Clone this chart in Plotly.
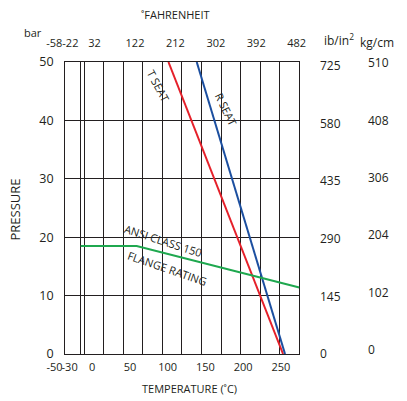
import plotly.graph_objects as go

# ---------------- data ----------------
celsius_ticks = [-50, -30, 0, 50, 100, 150, 200, 250]
fahrenheit_ticks = [-58, -22, 32, 122, 212, 302, 392, 482]
bar_ticks = [0, 10, 20, 30, 40, 50]
psi_ticks = [0, 145, 290, 435, 580, 725]
kgcm_ticks = [0, 102, 204, 306, 408, 510]

t_seat_temp = [101, 253]
t_seat_pres = [50, 0]
r_seat_temp = [138.5, 255.6]
r_seat_pres = [50, 0]
flange_temp = [-15.4, 58.9, 274.5]
flange_pres = [18.5, 18.5, 11.4]

# ---------------- layout helpers ----------------
# page body has an 8 px margin, so the figure sits at (8, 8)
OX, OY = 8, 8
W, H = 407 - OX, 401 - OY
def fx(px):
    return (px - OX) / W
def fy(py):
    return 1 - (py - OY) / H

INK = "#231f20"
FONT = "Open Sans"

frame_x = [fx(64.6), fx(299.3)]
frame_y = [fy(354), fy(62)]
wide_x = [fx(36.6), fx(299.3)]

def labels(vals):
    return [str(v) for v in vals]

fig = go.Figure()

# grid subplot (x, y) -- drawn first, underneath
fig.add_trace(go.Scatter(x=[None], y=[None], xaxis="x", yaxis="y",
                         mode="lines", hoverinfo="skip", showlegend=False))

# data curves on (x2, y2)
fig.add_trace(go.Scatter(x=t_seat_temp, y=t_seat_pres, xaxis="x2", yaxis="y2",
                         mode="lines", line=dict(color="#e5202a", width=2),
                         name="T SEAT"))
fig.add_trace(go.Scatter(x=r_seat_temp, y=r_seat_pres, xaxis="x2", yaxis="y2",
                         mode="lines", line=dict(color="#1c4fa0", width=2),
                         name="R SEAT"))
fig.add_trace(go.Scatter(x=flange_temp, y=flange_pres, xaxis="x2", yaxis="y2",
                         mode="lines", line=dict(color="#1fa84f", width=2),
                         name="ANSI CLASS 150 FLANGE RATING"))

# helper traces so the secondary scale axes are drawn
for xa, ya in [("x3", "y2"), ("x2", "y3"), ("x2", "y4")]:
    fig.add_trace(go.Scatter(x=[None], y=[None], xaxis=xa, yaxis=ya,
                             mode="lines", hoverinfo="skip", showlegend=False))

grid_x = [0, 0.82] + list(range(1, 13))

common = dict(automargin=False, zeroline=False, ticks="", fixedrange=True)

fig.update_layout(
    template="none",
    width=W, height=H,
    margin=dict(l=0, r=0, t=0, b=0, pad=0),
    paper_bgcolor="white",
    plot_bgcolor="rgba(0,0,0,0)",
    showlegend=False,
    font=dict(family=FONT, size=12, color=INK),
    xaxis=dict(domain=frame_x, range=[0, 12], anchor="y",
               tickvals=grid_x, showticklabels=False,
               showgrid=True, gridcolor=INK, gridwidth=1.2,
               showline=True, mirror=True, linecolor=INK, linewidth=1.4,
               **common),
    yaxis=dict(domain=frame_y, range=[0, 50], anchor="x",
               dtick=10, showticklabels=False,
               showgrid=True, gridcolor=INK, gridwidth=1.2,
               showline=True, mirror=True, linecolor=INK, linewidth=1.4,
               **common),
    xaxis2=dict(domain=wide_x, range=[-73.8, 274.5], anchor="y2",
                tickvals=celsius_ticks, ticktext=labels(celsius_ticks),
                showgrid=False, tickangle=0,
                showline=False, ticklabelstandoff=5,
                tickfont=dict(size=11), **common),
    yaxis2=dict(domain=frame_y, range=[0, 50], anchor="free",
                position=frame_x[0], side="left",
                tickvals=bar_ticks, showgrid=False,
                showline=False, ticklabelstandoff=11,
                tickfont=dict(size=12.5), **common),
    xaxis3=dict(overlaying="x2", side="top", anchor="free", position=fy(49.5),
                range=[-97.2, 487.9], tickvals=fahrenheit_ticks,
                ticktext=labels(fahrenheit_ticks), tickangle=0,
                showgrid=False, showline=False,
                tickfont=dict(size=11), **common),
    yaxis3=dict(overlaying="y2", side="right", anchor="free", position=fx(319),
                range=[0, 735], tickvals=psi_ticks,
                showgrid=False, showline=False,
                tickfont=dict(size=12), **common),
    yaxis4=dict(overlaying="y2", side="right", anchor="free", position=fx(367),
                range=[-7, 512], tickvals=kgcm_ticks,
                showgrid=False, showline=False,
                tickfont=dict(size=12), **common),
)

def paper_note(text, px, py, size=11, angle=0):
    fig.add_annotation(text=text, x=fx(px), y=fy(py), xref="paper", yref="paper",
                       showarrow=False, textangle=angle,
                       font=dict(family=FONT, size=size, color=INK),
                       xanchor="center", yanchor="middle")

def data_note(text, x, y, angle, size=11):
    fig.add_annotation(text=text, x=x, y=y, xref="x2", yref="y2",
                       showarrow=False, textangle=angle,
                       font=dict(family=FONT, size=size, color=INK),
                       xanchor="center", yanchor="middle")

paper_note("˚FAHRENHEIT", 175, 15, 11)
paper_note("bar", 32.5, 33, 11)
paper_note("ib/in<sup>2</sup>", 339, 40, 12)
paper_note("kg/cm", 377, 42, 12)
paper_note("2", 404, 36, 10)
paper_note("PRESSURE", 14.5, 210, 13, -90)
paper_note("TEMPERATURE (˚C)", 189, 388, 11)

data_note("T SEAT", 87.1, 45.9, 62)
data_note("R SEAT", 177.3, 41.8, 64)
data_note("ANSI CLASS 150", 93.8, 19.5, 18)
data_note("FLANGE RATING", 100.4, 14.7, 19)

fig.write_html("out.html")
